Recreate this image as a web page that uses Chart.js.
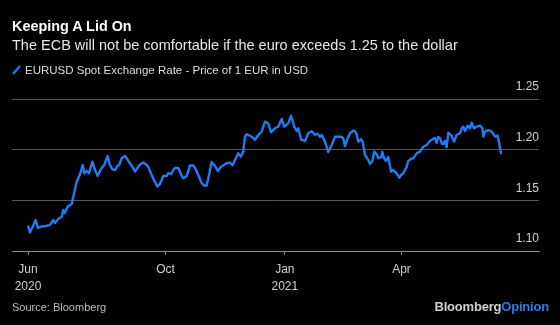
<!DOCTYPE html>
<html lang="en">
<head>
  <meta charset="UTF-8" />
  <title>Keeping A Lid On</title>
  <script src="https://cdn.jsdelivr.net/npm/chart.js@4.4.1/dist/chart.umd.min.js"></script>
  <style>
    html, body { margin: 0; padding: 0; background: #000; }
    body { width: 560px; height: 325px; position: relative; overflow: hidden; font-family: "Liberation Sans", Arial, sans-serif; }
    #wrap { position: absolute; left: 0; top: 0; width: 560px; height: 325px; }
    .title { position: absolute; left: 12px; top: 18px; color: #fff; font-weight: bold; font-size: 14.4px; }
    .subtitle { position: absolute; left: 12px; top: 37px; color: #e6e6e6; font-size: 14.5px; }
    .legend { position: absolute; left: 12px; top: 64px; color: #ddd; font-size: 11.5px; }
    .legend svg { vertical-align: -1px; margin-right: 4px; }
    .source { position: absolute; left: 12px; top: 301px; color: #bbb; font-size: 11px; }
    .brand { position: absolute; right: 11px; top: 299px; color: #d0d0d0; font-size: 13px; font-weight: bold; letter-spacing: -0.2px; }
    .brand span { color: #2a7de1; }
  </style>
</head>
<body>
  <div id="wrap"><canvas id="fxChart" width="560" height="325"></canvas></div>
  <div class="title">Keeping A Lid On</div>
  <div class="subtitle">The ECB will not be comfortable if the euro exceeds 1.25 to the dollar</div>
  <div class="legend"><svg width="9" height="10"><line x1="1" y1="9" x2="8" y2="1" stroke="#1f7cf4" stroke-width="2.2"/></svg>EURUSD Spot Exchange Rate - Price of 1 EUR in USD</div>
  <div class="source">Source: Bloomberg</div>
  <div class="brand">Bloomberg<span>Opinion</span></div>

  <script>
    // days since 17 Jun 2020
    const days = [
      0, 1.5, 3.9, 5.9, 7.7, 10.8, 13.9, 17, 19.5, 20.8, 23.4, 26, 27.2, 28.5, 30.6, 32.4, 33.7, 34.9, 37.5, 40.1,
      42.2, 43.4, 45.3, 47, 49.6, 51.7, 53.7, 56.3, 58.8, 61.4, 63.2, 64.8, 67.1, 69.2, 70.4, 72.2, 74.8, 76.9, 78.6, 80.4,
      82.5, 86.4, 88.9, 91.5, 92.8, 95.4, 97.1, 99.7, 101.8, 104.3, 106.9, 108.2, 110.3, 112, 113.3, 115.9, 117.2, 119.7, 122.4, 124.9,
      127.4, 128.8, 131.3, 133.9, 135.7, 137.8, 139.6, 141.6, 144.2, 146.3, 148.8, 153.2, 155.7, 157.8, 159.6, 162.1, 164.2, 166, 167.3, 168.6,
      171.2, 173.7, 175, 177.6, 180.2, 182.7, 185.3, 187.4, 190.4, 193, 195.6, 197.6, 200.7, 202.8, 205.3, 207.2, 208.4, 210.7, 213.6, 216.1,
      218.7, 221.3, 223.4, 225.1, 226.4, 229, 231.5, 234.2, 236.7, 239.2, 241.9, 243.1, 244.4, 246.5, 248.3, 250.8, 252.1, 253.4, 254.7, 256.7,
      258.1, 259.8, 262.4, 263.7, 265.5, 267, 268.9, 270.1, 272.7, 273.2, 274.5, 276, 277.8, 279.9, 281.7, 284.3, 286.3, 287.6, 289.4, 292,
      293.2, 295.3, 297.1, 299.7, 302.2, 304.8, 307.4, 309.9, 312.3, 313.8, 315.1, 316.3, 317.7, 319, 320.2, 321.5, 322.8, 324.1, 326.7, 328.5,
      330.5, 333.1, 334.4, 335.6, 336.9, 339, 340.8, 342.1, 343.9, 346, 348.5, 350.3, 351.1, 352.4, 354.9, 357.5, 360.1, 362.1, 363.1, 364.7,
      365.2
    ];
    const eurusd = [
      1.1250, 1.1183, 1.1247, 1.1306, 1.1227, 1.1242, 1.1247, 1.1257, 1.1306, 1.1276, 1.1316, 1.1339, 1.1405, 1.1375, 1.1437, 1.1454, 1.1464, 1.1533, 1.1681, 1.1757,
      1.1849, 1.1767, 1.1790, 1.1767, 1.1881, 1.1799, 1.1740, 1.1809, 1.1849, 1.1938, 1.1849, 1.1809, 1.1799, 1.1842, 1.1849, 1.1915, 1.1938, 1.1898, 1.1866, 1.1832,
      1.1785, 1.1854, 1.1873, 1.1849, 1.1829, 1.1750, 1.1701, 1.1637, 1.1661, 1.1740, 1.1740, 1.1770, 1.1757, 1.1799, 1.1819, 1.1819, 1.1780, 1.1718, 1.1740, 1.1844,
      1.1844, 1.1819, 1.1750, 1.1671, 1.1646, 1.1646, 1.1750, 1.1878, 1.1839, 1.1790, 1.1832, 1.1866, 1.1872, 1.1849, 1.1898, 1.1964, 1.1931, 1.1980, 1.2128, 1.2152,
      1.2138, 1.2115, 1.2096, 1.2145, 1.2178, 1.2276, 1.2260, 1.2172, 1.2211, 1.2227, 1.2303, 1.2227, 1.2260, 1.2335, 1.2227, 1.2184, 1.2211, 1.2096, 1.2086, 1.2162,
      1.2181, 1.2148, 1.2155, 1.2128, 1.2145, 1.2079, 1.1977, 1.2046, 1.2128, 1.2128, 1.2128, 1.2112, 1.2036, 1.2112, 1.2162, 1.2187, 1.2184, 1.2152, 1.2079, 1.2102,
      1.2076, 1.1948, 1.1898, 1.1859, 1.1888, 1.1980, 1.1954, 1.1915, 1.1931, 1.1977, 1.1918, 1.1888, 1.1928, 1.1783, 1.1799, 1.1767, 1.1723, 1.1750, 1.1767, 1.1832,
      1.1888, 1.1908, 1.1915, 1.1964, 1.1980, 1.2029, 1.2046, 1.2086, 1.2105, 1.2115, 1.2066, 1.2125, 1.2115, 1.2061, 1.2056, 1.2086, 1.2026, 1.2168, 1.2135, 1.2079,
      1.2145, 1.2162, 1.2211, 1.2227, 1.2184, 1.2237, 1.2211, 1.2266, 1.2211, 1.2227, 1.2237, 1.2211, 1.2128, 1.2178, 1.2194, 1.2178, 1.2128, 1.2138, 1.2079, 1.1964,
      1.1957
    ];
    // x tick positions (days) and their labels
    const tickDays = [0, 106, 198, 288];
    const tickLabels = [['Jun', '2020'], 'Oct', ['Jan', '2021'], 'Apr'];
    const yTicks = [1.10, 1.15, 1.20, 1.25];

    const points = days.map((d, i) => ({ x: d, y: eurusd[i] }));

    new Chart(document.getElementById('fxChart'), {
      type: 'line',
      data: {
        datasets: [{
          label: 'EURUSD Spot Exchange Rate - Price of 1 EUR in USD',
          data: points,
          borderColor: '#1f7cf4',
          borderWidth: 2.4,
          pointRadius: 0,
          tension: 0,
          borderJoinStyle: 'round'
        }]
      },
      options: {
        responsive: false,
        animation: false,
        layout: { padding: { left: 12, top: 99, right: 0, bottom: 0 } },
        plugins: { legend: { display: false }, tooltip: { enabled: false } },
        scales: {
          x: {
            type: 'linear',
            min: -12.34,
            max: 394,
            afterBuildTicks: axis => { axis.ticks = tickDays.map(v => ({ value: v })); },
            afterFit: s => { s.height = 74; },
            ticks: {
              autoSkip: false,
              maxRotation: 0,
              padding: 6,
              color: '#d0d0d0',
              font: { family: '"Liberation Sans", Arial, sans-serif', size: 12, lineHeight: 1.4 },
              callback: v => tickLabels[tickDays.indexOf(v)]
            },
            grid: { drawOnChartArea: false, drawTicks: true, tickLength: 4, color: '#8a8a8a' },
            border: { display: true, color: '#8a8a8a', width: 1 }
          },
          y: {
            position: 'right',
            min: 1.10,
            max: 1.25,
            afterBuildTicks: axis => { axis.ticks = yTicks.map(v => ({ value: v })); },
            afterFit: s => { s.width = 21; },
            ticks: {
              mirror: true,
              padding: 0,
              labelOffset: -12,
              color: '#d0d0d0',
              font: { family: '"Liberation Sans", Arial, sans-serif', size: 12 },
              callback: v => v.toFixed(2)
            },
            grid: { color: '#555', drawTicks: false, lineWidth: 1 },
            border: { display: false }
          }
        }
      }
    });
  </script>
</body>
</html>
